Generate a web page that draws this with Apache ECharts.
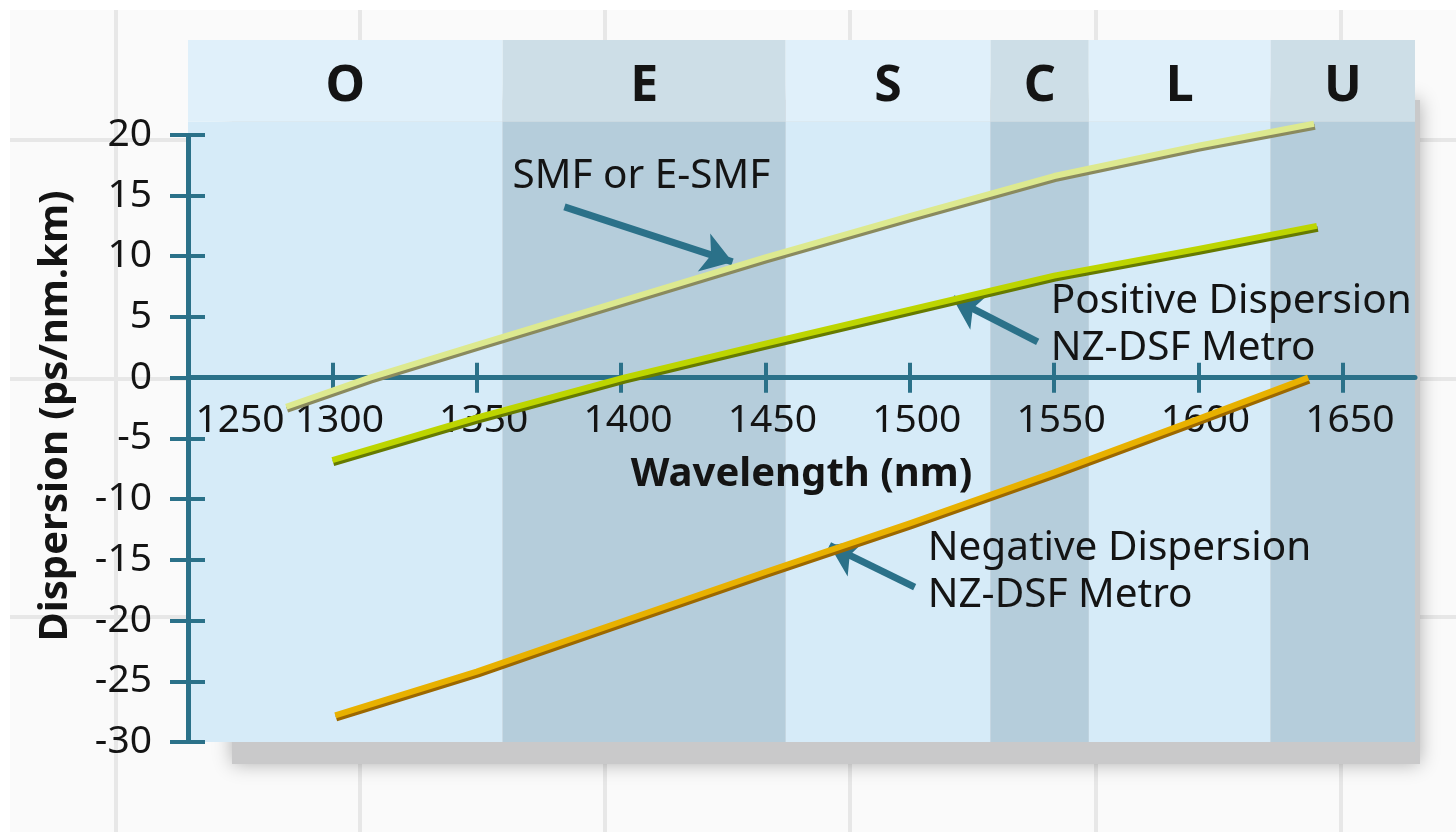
<!DOCTYPE html>
<html>
<head>
<meta charset="utf-8">
<script src="https://cdn.jsdelivr.net/npm/echarts@6/dist/echarts.min.js"></script>
<style>
  html, body { margin: 0; padding: 0; background: #ffffff; }
  #chart { width: 1456px; height: 832px; }
</style>
</head>
<body>
<div id="chart"></div>
<script>
// Transmission bands (nm)
const bandNames = ['O', 'E', 'S', 'C', 'L', 'U'];
const bandEdges = [1250, 1359, 1457, 1528, 1562, 1625, 1675];

// Standard single-mode fibre: wavelength (nm) / dispersion (ps/nm.km)
const smfWavelength = [1284, 1313, 1350, 1400, 1450, 1500, 1550, 1600, 1640];
const smfDispersion = [-2.4, 0, 2.7, 6.3, 9.9, 13.3, 16.6, 19.1, 20.9];

// Positive-dispersion NZ-DSF (metro)
const posWavelength = [1300, 1350, 1401, 1450, 1500, 1550, 1600, 1641];
const posDispersion = [-6.8, -3.3, 0, 2.8, 5.6, 8.4, 10.6, 12.5];

// Negative-dispersion NZ-DSF (metro)
const negWavelength = [1301, 1350, 1400, 1450, 1500, 1550, 1600, 1638];
const negDispersion = [-27.8, -24.2, -20.1, -16.0, -12.0, -7.8, -3.4, 0];

// Axis ticks
const xTickValues = [1300, 1350, 1400, 1450, 1500, 1550, 1600, 1650];
const xLabelValues = [1250, 1300, 1350, 1400, 1450, 1500, 1550, 1600, 1650];
const yTickValues = [-30, -25, -20, -15, -10, -5, 0, 5, 10, 15, 20];

// Callouts: arrow tail [nm, ps/nm.km] -> arrow tip, and text anchor
const smfArrow = [[1380.4, 14.06], [1438.6, 9.53]];
const posArrow = [[1544.3, 2.94], [1514.9, 6.53]];
const negArrow = [[1501.7, -17.24], [1472.2, -13.81]];
const smfLabel = ['SMF or E-SMF', [1362.4, 16.6]];
const posLabel = ['Positive Dispersion\nNZ-DSF Metro', [1548.8, 4.3]];
const negLabel = ['Negative Dispersion\nNZ-DSF Metro', [1506.2, -16.0]];

const X_MIN = 1250, X_MAX = 1675;
const Y_MIN = -30, Y_MAX = 27.8, HEADER_FLOOR = 21.07;

// Plot box (px)
const GRID = { left: 188, right: 41, top: 40, bottom: 90 };
const PLOT_H = 832 - GRID.top - GRID.bottom;
// distance of the zero line from the top / bottom edge of the plot box
const ZERO_FROM_TOP = (Y_MAX - 0) / (Y_MAX - Y_MIN) * PLOT_H;
const ZERO_FROM_BOTTOM = PLOT_H - ZERO_FROM_TOP;

const TEAL = '#2b7189';
const INK = '#141414';
const FONT = 'Noto Sans';

const bandLight = '#d6ebf8', bandDark = '#b5cddb';
const headLight = '#e0f0fa', headDark = '#cddee7';

function pairs(xs, ys) { return xs.map((x, i) => [x, ys[i]]); }

// Band fills (main area + header strip with band letters)
const bandAreas = [];
bandNames.forEach((name, i) => {
  const dark = i % 2 === 1;
  bandAreas.push([
    { xAxis: bandEdges[i], yAxis: Y_MIN, itemStyle: { color: dark ? bandDark : bandLight }, label: { show: false } },
    { xAxis: bandEdges[i + 1], yAxis: HEADER_FLOOR }
  ]);
  bandAreas.push([
    { name: name, xAxis: bandEdges[i], yAxis: HEADER_FLOOR, itemStyle: { color: dark ? headDark : headLight } },
    { xAxis: bandEdges[i + 1], yAxis: Y_MAX }
  ]);
});

function arrowMark(arrow) {
  return {
    silent: true,
    symbol: ['none', 'arrow'],
    symbolSize: 30,
    label: { show: false },
    lineStyle: { color: TEAL, width: 7, type: 'solid', opacity: 1 },
    emphasis: { disabled: true },
    data: [[{ coord: arrow[0] }, { coord: arrow[1] }]]
  };
}

function textMark(lbl) {
  return {
    silent: true,
    symbol: 'circle',
    symbolSize: 0,
    itemStyle: { color: 'transparent' },
    label: {
      show: true,
      position: [0, 0],
      align: 'left',
      verticalAlign: 'middle',
      formatter: '{b}',
      fontFamily: FONT,
      fontSize: 40.5,
      lineHeight: 47,
      color: INK
    },
    data: [{ name: lbl[0], coord: lbl[1] }]
  };
}

function curve(name, xs, ys, top, edge, arrow, lbl) {
  return {
    name: name,
    type: 'line',
    z: 5,
    data: pairs(xs, ys),
    smooth: false,
    showSymbol: false,
    lineStyle: {
      color: top,
      width: 6,
      cap: 'butt',
      join: 'round',
      shadowColor: edge,
      shadowOffsetX: 1,
      shadowOffsetY: 3,
      shadowBlur: 0
    },
    emphasis: { disabled: true },
    markLine: arrowMark(arrow),
    markPoint: textMark(lbl)
  };
}

const chart = echarts.init(document.getElementById('chart'), null, { renderer: 'canvas' });

const labelRich = {
  first: { fontFamily: FONT, fontSize: 39, color: INK, padding: [0, 0, 0, 104] },
  n: { fontFamily: FONT, fontSize: 39, color: INK, padding: [0, 0, 0, 14] }
};

const option = {
  backgroundColor: '#ffffff',
  animation: false,
  graphic: {
    elements: [
      { type: 'rect', z: 0, shape: { x: 10, y: 10, width: 1446, height: 822 }, style: { fill: '#fafafa' } },
      ...[116, 360, 605, 850, 1096, 1341].map(x => ({
        type: 'line', z: 0, shape: { x1: x, y1: 10, x2: x, y2: 832 },
        style: { stroke: '#e7e7e7', lineWidth: 4 }
      })),
      ...[140, 379, 617].map(y => ({
        type: 'line', z: 0, shape: { x1: 10, y1: y, x2: 1456, y2: y },
        style: { stroke: '#e7e7e7', lineWidth: 4 }
      })),
      {
        type: 'rect', z: 0,
        shape: { x: 232, y: 100, width: 1188, height: 664 },
        style: { fill: '#c9c9ca', shadowBlur: 18, shadowColor: 'rgba(0,0,0,0.3)' }
      }
    ]
  },
  grid: {
    left: GRID.left, right: GRID.right, top: GRID.top, bottom: GRID.bottom,
    outerBoundsMode: 'none',
    show: false
  },
  xAxis: [
    {
      // labelled axis, lifted from the bottom edge up to the zero line; ticks point down
      type: 'value', min: X_MIN, max: X_MAX, interval: 50, z: 3,
      position: 'bottom',
      offset: -ZERO_FROM_BOTTOM,
      axisLine: { show: true, onZero: false, lineStyle: { color: TEAL, width: 5 } },
      axisTick: { show: true, customValues: xTickValues, length: 15, lineStyle: { color: TEAL, width: 4 } },
      axisLabel: {
        customValues: xLabelValues, margin: 24, fontFamily: FONT, fontSize: 39, color: INK,
        formatter: v => (v === 1250 ? '{first|' + v + '}' : '{n|' + v + '}'),
        rich: labelRich
      },
      splitLine: { show: false },
      name: 'Wavelength (nm)', nameLocation: 'middle', nameGap: 77,
      nameTextStyle: { fontFamily: FONT, fontSize: 40, fontWeight: 'bold', color: INK }
    },
    {
      // companion axis on the zero line carrying the upward half of each tick
      type: 'value', min: X_MIN, max: X_MAX, interval: 50, z: 3,
      position: 'top',
      offset: -ZERO_FROM_TOP,
      axisLine: { show: false, onZero: false },
      axisTick: { show: true, customValues: xTickValues, length: 15, lineStyle: { color: TEAL, width: 4 } },
      axisLabel: { show: false },
      splitLine: { show: false }
    }
  ],
  yAxis: [
    {
      type: 'value', min: Y_MIN, max: Y_MAX, interval: 5, z: 3,
      position: 'left',
      axisLine: { show: false, onZero: false },
      axisTick: { show: true, customValues: yTickValues, length: 18, lineStyle: { color: TEAL, width: 4 } },
      axisLabel: { customValues: yTickValues, margin: 36, fontFamily: FONT, fontSize: 39, color: INK },
      splitLine: { show: false },
      name: 'Dispersion (ps/nm.km)', nameLocation: 'middle', nameRotate: 90, nameGap: 112,
      nameTextStyle: { fontFamily: FONT, fontSize: 40, fontWeight: 'bold', color: INK, padding: [0, 50, 0, 0] }
    },
    {
      type: 'value', min: Y_MIN, max: Y_MAX, interval: 5, z: 3,
      position: 'left',
      axisLine: { show: false, onZero: false },
      axisTick: { show: true, inside: true, customValues: yTickValues, length: 17, lineStyle: { color: TEAL, width: 4 } },
      axisLabel: { show: false },
      splitLine: { show: false }
    }
  ],
  series: [
    {
      name: 'bands',
      type: 'line',
      z: 1,
      data: [],
      silent: true,
      markArea: {
        silent: true,
        label: {
          show: true, position: 'inside', offset: [0, 6],
          fontFamily: FONT, fontSize: 50, fontWeight: 'bold', color: INK
        },
        emphasis: { disabled: true },
        data: bandAreas
      }
    },
    {
      name: 'dispersion axis',
      type: 'line',
      z: 3,
      data: [],
      silent: true,
      markLine: {
        silent: true,
        symbol: ['none', 'none'],
        label: { show: false },
        lineStyle: { color: TEAL, width: 5, type: 'solid', opacity: 1 },
        emphasis: { disabled: true },
        data: [[{ coord: [X_MIN, Y_MIN] }, { coord: [X_MIN, 20] }]]
      }
    },
    curve('SMF or E-SMF', smfWavelength, smfDispersion, '#dde98f', '#8a8a5e', smfArrow, smfLabel),
    curve('Positive Dispersion NZ-DSF Metro', posWavelength, posDispersion, '#bdd500', '#667a00', posArrow, posLabel),
    curve('Negative Dispersion NZ-DSF Metro', negWavelength, negDispersion, '#e8b100', '#9c6800', negArrow, negLabel)
  ]
};

chart.setOption(option);
</script>
</body>
</html>
